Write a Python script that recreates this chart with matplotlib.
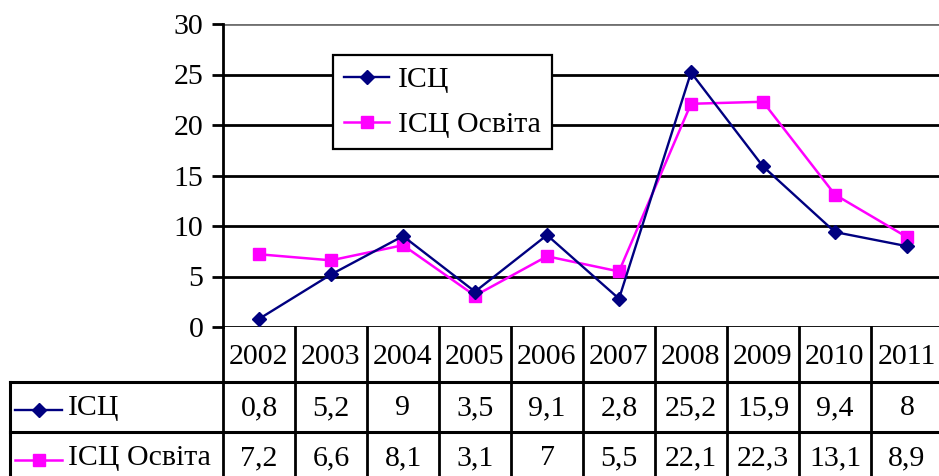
import matplotlib
matplotlib.use("Agg")
import matplotlib.pyplot as plt
from matplotlib.transforms import blended_transform_factory

plt.rcParams['font.family'] = ['Liberation Serif', 'DejaVu Serif']

years = ['2002', '2003', '2004', '2005', '2006', '2007', '2008', '2009', '2010', '2011']
isc = [0.8, 5.2, 9, 3.5, 9.1, 2.8, 25.2, 15.9, 9.4, 8]
isc_osv = [7.2, 6.6, 8.1, 3.1, 7, 5.5, 22.1, 22.3, 13.1, 8.9]
isc_lbl = ['0,8', '5,2', '9', '3,5', '9,1', '2,8', '25,2', '15,9', '9,4', '8']
osv_lbl = ['7,2', '6,6', '8,1', '3,1', '7', '5,5', '22,1', '22,3', '13,1', '8,9']
yticks = [0, 5, 10, 15, 20, 25, 30]
name1 = 'ІСЦ'
name2 = 'ІСЦ Освіта'

W, H = 939, 476
fig = plt.figure(figsize=(W / 100, H / 100), dpi=100)

def px(x0, y0, x1, y1):
    return [x0 / W, (H - y1) / H, (x1 - x0) / W, (y1 - y0) / H]

FS = 21.5

# overlay for table (pixel coordinates)
tab = fig.add_axes([0, 0, 1, 1], zorder=0)
tab.set_xlim(0, W)
tab.set_ylim(H, 0)
tab.axis('off')

ax = fig.add_axes(px(223, 24, 943, 327), zorder=1)
ax.set_facecolor('none')
n = len(years)
x = list(range(n))
ax.set_xlim(-0.5, n - 0.5)
ax.set_ylim(0, 30)
ax.set_yticks(yticks)
ax.set_xticks([])
for s in ['top', 'right', 'bottom']:
    ax.spines[s].set_visible(False)
ax.spines['left'].set_linewidth(2)
ax.tick_params(axis='y', length=8, width=2, pad=6, labelsize=FS, direction='out')
for t in yticks:
    ax.axhline(t, color='#707070' if t == 30 else 'black', lw=2, zorder=1)

c1, c2 = '#000080', '#ff00ff'
ax.plot(x, isc, color=c1, lw=1.7, marker='D', ms=7, label=name1, zorder=3, clip_on=False)
ax.plot(x, isc_osv, color=c2, lw=1.8, marker='s', ms=9, label=name2, zorder=2, clip_on=False)

leg = ax.legend(loc='upper left', bbox_to_anchor=(333 / W, 1 - 55 / H), bbox_transform=fig.transFigure,
                fancybox=False, edgecolor='black', framealpha=1, fontsize=FS,
                handlelength=1.5, handletextpad=0.3, borderpad=0.38, labelspacing=0.6,
                borderaxespad=0)
leg.get_frame().set_linewidth(1.6)

# data table
bt = blended_transform_factory(ax.transData, tab.transData)
y_head, y_r1, y_r2 = 357, 408, 458
for i in range(n):
    tab.text(i, y_head, years[i], transform=bt, ha='center', va='center', fontsize=FS)
    tab.text(i, y_r1, isc_lbl[i], transform=bt, ha='center', va='center', fontsize=FS)
    tab.text(i, y_r2, osv_lbl[i], transform=bt, ha='center', va='center', fontsize=FS)
for i in range(n + 1):
    tab.plot([i - 0.5, i - 0.5], [327, H + 5], transform=bt, color='black', lw=2, clip_on=False)
tab.plot([10, 945], [382, 382], color='black', lw=2.2)
tab.plot([10, 945], [432, 432], color='black', lw=2.2)
tab.plot([10, 10], [382, H + 5], color='black', lw=2.2)

# row keys
tab.plot([15, 62], [y_r1 + 2, y_r1 + 2], color=c1, lw=1.7)
tab.plot([38.5], [y_r1 + 2], color=c1, marker='D', ms=7)
tab.text(68, y_r1, name1, ha='left', va='center', fontsize=FS)
tab.plot([15, 62], [y_r2 + 2, y_r2 + 2], color=c2, lw=1.8)
tab.plot([38.5], [y_r2 + 2], color=c2, marker='s', ms=9)
tab.text(68, y_r2, name2, ha='left', va='center', fontsize=FS)

fig.savefig('out.png', dpi=100)
